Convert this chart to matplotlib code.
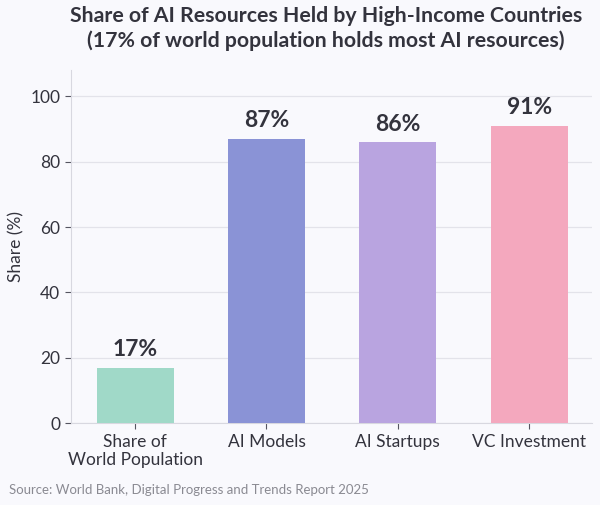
import matplotlib
matplotlib.use("Agg")
import matplotlib.pyplot as plt

CATEGORIES = ["Share of\nWorld Population", "AI Models", "AI Startups", "VC Investment"]
SHARES = [17, 87, 86, 91]
COLORS = ["#A0D9C8", "#8A93D6", "#B9A4E0", "#F4A8BE"]

TITLE = ("Share of AI Resources Held by High-Income Countries\n"
         "(17% of world population holds most AI resources)")
SOURCE = "Source: World Bank, Digital Progress and Trends Report 2025"

BG = "#F9F9FD"
TEXT = "#33333D"

plt.rcParams["font.family"] = ["Lato", "DejaVu Sans"]


def main() -> None:
    fig = plt.figure(figsize=(6.0, 5.05), dpi=100, facecolor=BG)
    ax = fig.add_axes([0.118, 0.162, 0.869, 0.699])
    ax.set_facecolor(BG)

    x = range(len(CATEGORIES))
    bars = ax.bar(x, SHARES, width=0.585, color=COLORS, zorder=3)

    for bar, value in zip(bars, SHARES):
        ax.text(
            bar.get_x() + bar.get_width() / 2,
            value + 2.3,
            f"{value}%",
            ha="center",
            va="bottom",
            fontsize=16.5,
            fontweight="bold",
            color=TEXT,
        )

    ax.set_ylim(0, 108)
    ax.set_xlim(-0.49, 3.48)
    ax.set_yticks([0, 20, 40, 60, 80, 100])
    ax.set_xticks(list(x))
    ax.set_xticklabels(CATEGORIES)
    ax.tick_params(axis="both", labelsize=12.5, colors=TEXT, length=4, color="#555560")
    ax.set_ylabel("Share (%)", fontsize=12.5, color=TEXT)

    ax.grid(axis="y", color="#E3E3EA", linewidth=0.9, zorder=0)
    for side in ["top", "right"]:
        ax.spines[side].set_visible(False)
    for side in ["left", "bottom"]:
        ax.spines[side].set_color("#D8D8E0")

    fig.text(0.543, 0.988, TITLE, ha="center", va="top", fontsize=15.3,
             fontweight="bold", color=TEXT, linespacing=1.25)
    fig.text(0.015, 0.018, SOURCE, ha="left", va="bottom", fontsize=9.5,
             color="#8A8A92")

    fig.savefig("out.png", dpi=100, facecolor=BG)
    plt.close(fig)


if __name__ == "__main__":
    main()
